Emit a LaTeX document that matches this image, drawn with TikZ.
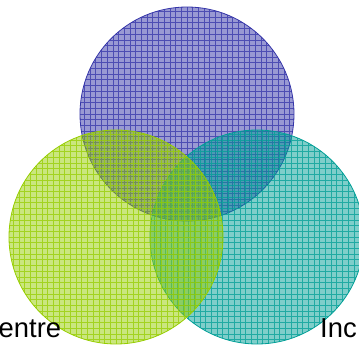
\documentclass[tikz,border=0pt]{standalone}
\usepackage{fontspec}
\setmainfont{Liberation Sans}
\usetikzlibrary{positioning}

\definecolor{setblue}{RGB}{52,52,168}
\definecolor{setteal}{RGB}{0,158,150}
\definecolor{setlime}{RGB}{150,205,0}

\begin{document}
\begin{tikzpicture}[
  x=1bp,y=-1bp,
  set/.style={circle,inner sep=0pt,minimum size=214bp,line width=0.8bp,
              draw=#1,fill=#1,fill opacity=0.5,
              path picture={\draw[#1,opacity=0.75,line width=0.7bp,step=5.7bp]
                (path picture bounding box.south west) grid
                (path picture bounding box.north east);}},
  lbl/.style={font=\fontsize{27.5}{31}\selectfont,inner sep=0pt}
]
\useasboundingbox (0,0) rectangle (359,345);
% the three sets, drawn back to front
\node[set=setblue] (topset) at (187,114) {};
\node[set=setteal] (rightset) at (257,237) {};
\node[set=setlime] (leftset) at (116,237) {};
% labels
\node[lbl,anchor=base west] (leftlbl) at (-1.5,337) {entre};
\node[lbl,anchor=base west] (rightlbl) at (320,337) {Inc};
\end{tikzpicture}
\end{document}
